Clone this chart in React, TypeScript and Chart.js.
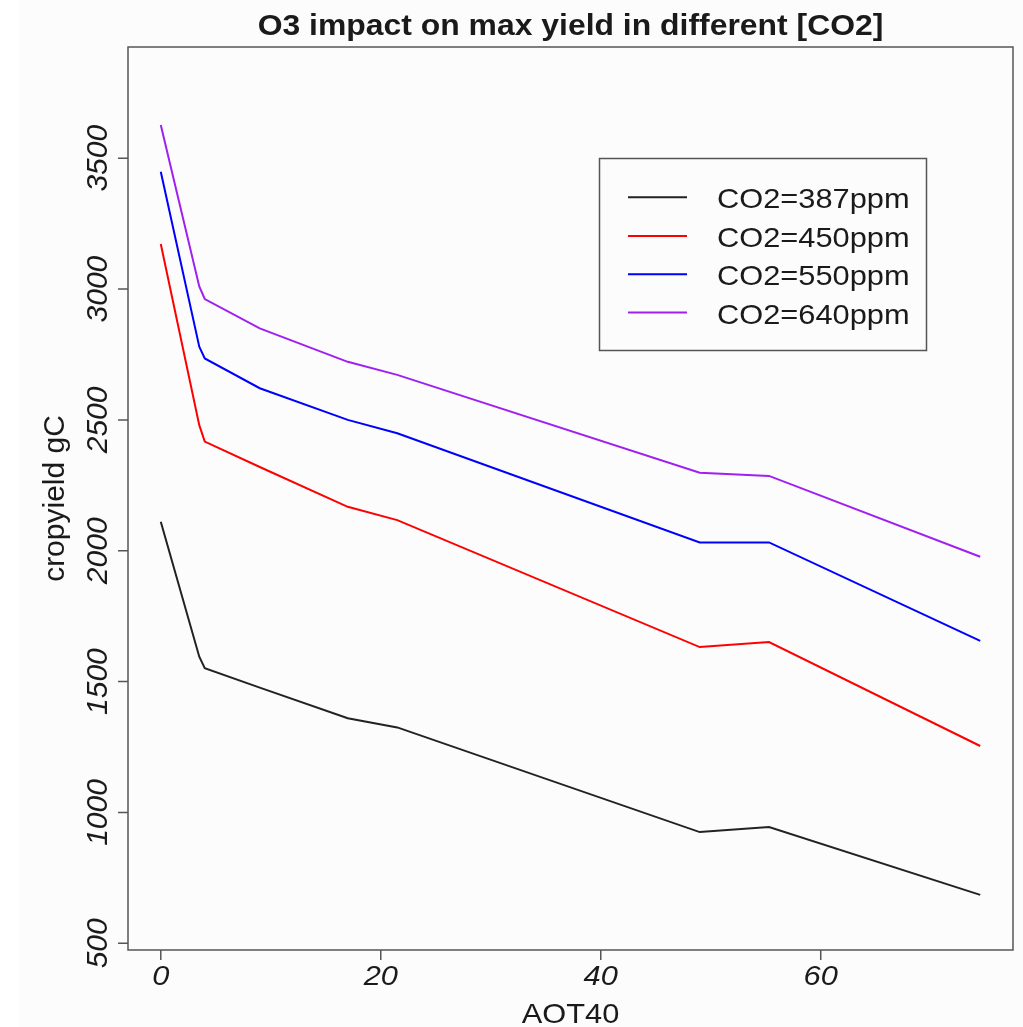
import React, { useEffect, useRef } from "react";
import { Chart, registerables } from "chart.js";

Chart.register(...registerables);

const aot40 = [0, 3.5, 4, 9, 17, 21.5, 49, 55.3, 74.5];
const co2_387 = [2111, 1595, 1551, 1477, 1360, 1325, 925, 944, 685];
const co2_450 = [3172, 2480, 2417, 2320, 2168, 2117, 1632, 1651, 1254];
const co2_550 = [3448, 2780, 2735, 2621, 2500, 2449, 2032, 2032, 1656];
const co2_640 = [3627, 3010, 2962, 2850, 2722, 2672, 2298, 2286, 1977];

const seriesLabels = ["CO2=387ppm", "CO2=450ppm", "CO2=550ppm", "CO2=640ppm"];
const seriesColors = ["#222222", "#ff0000", "#0000ff", "#a020f0"];
const xTicks = [0, 20, 40, 60];
const yTicks = [500, 1000, 1500, 2000, 2500, 3000, 3500];
const titleText = "O3 impact on max yield in different [CO2]";
const xTitle = "AOT40";
const yTitle = "cropyield gC";

const FONT = '"Liberation Sans", Arimo, Helvetica, Arial, sans-serif';
const HS = 1.1;

function txt(
  ctx: CanvasRenderingContext2D,
  s: string,
  x: number,
  y: number,
  font: string,
  align: CanvasTextAlign,
  rot: number,
  sx: number
) {
  ctx.save();
  ctx.translate(x, y);
  if (rot) ctx.rotate(rot);
  ctx.scale(sx, 1);
  ctx.font = font;
  ctx.textAlign = align;
  ctx.textBaseline = "alphabetic";
  ctx.fillStyle = "#1a1a1a";
  ctx.fillText(s, 0, 0);
  ctx.restore();
}

const rBasePlugin = {
  id: "rbase",
  beforeDraw(chart: any) {
    const ctx = chart.ctx as CanvasRenderingContext2D;
    ctx.save();
    ctx.fillStyle = "#ffffff";
    ctx.fillRect(0, 0, chart.width, chart.height);
    ctx.fillStyle = "#fcfcfc";
    ctx.fillRect(19, 0, chart.width - 19, chart.height);
    ctx.restore();
  },
  afterDraw(chart: any) {
    const ctx = chart.ctx as CanvasRenderingContext2D;
    const a = chart.chartArea;
    const xs = chart.scales.x;
    const ys = chart.scales.y;
    ctx.save();
    ctx.strokeStyle = "#555555";
    ctx.lineWidth = 1.5;
    ctx.strokeRect(a.left, a.top, a.right - a.left, a.bottom - a.top);
    // x ticks
    ctx.beginPath();
    for (const t of xTicks) {
      const px = xs.getPixelForValue(t);
      ctx.moveTo(px, a.bottom);
      ctx.lineTo(px, a.bottom + 10);
    }
    for (const t of yTicks) {
      const py = ys.getPixelForValue(t);
      ctx.moveTo(a.left, py);
      ctx.lineTo(a.left - 10, py);
    }
    ctx.stroke();
    ctx.restore();

    for (const t of xTicks) {
      txt(ctx, String(t), xs.getPixelForValue(t), a.bottom + 35, `italic 28px ${FONT}`, "center", 0, HS);
    }
    for (const t of yTicks) {
      txt(ctx, String(t), 107, ys.getPixelForValue(t), `italic 30px ${FONT}`, "center", -Math.PI / 2, 1);
    }
    const cx = (a.left + a.right) / 2;
    const cy = (a.top + a.bottom) / 2;
    txt(ctx, titleText, cx, 35, `bold 29px ${FONT}`, "center", 0, HS);
    txt(ctx, xTitle, cx, 1023, `28px ${FONT}`, "center", 0, HS);
    txt(ctx, yTitle, 64, cy, `30px ${FONT}`, "center", -Math.PI / 2, 1);

    // legend
    const lx0 = 599.5, ly0 = 158.5, lx1 = 926.5, ly1 = 350.5;
    ctx.save();
    ctx.strokeStyle = "#555555";
    ctx.lineWidth = 1.5;
    ctx.strokeRect(lx0, ly0, lx1 - lx0, ly1 - ly0);
    const rowY = [197.3, 236, 274.3, 312.5];
    seriesLabels.forEach((lab, i) => {
      ctx.strokeStyle = seriesColors[i];
      ctx.lineWidth = 2;
      ctx.beginPath();
      ctx.moveTo(628, rowY[i]);
      ctx.lineTo(687, rowY[i]);
      ctx.stroke();
      txt(ctx, lab, 717, rowY[i] + 11, `28px ${FONT}`, "left", 0, HS);
    });
    ctx.restore();
  },
};

export default function App() {
  const ref = useRef<HTMLCanvasElement | null>(null);
  useEffect(() => {
    if (!ref.current) return;
    const series = [co2_387, co2_450, co2_550, co2_640];
    const chart = new Chart(ref.current, {
      type: "line",
      data: {
        datasets: series.map((vals, i) => ({
          label: seriesLabels[i],
          data: aot40.map((x, j) => ({ x, y: vals[j] })),
          borderColor: seriesColors[i],
          backgroundColor: seriesColors[i],
          borderWidth: 2,
          pointRadius: 0,
          tension: 0,
          fill: false,
        })),
      },
      options: {
        animation: false,
        responsive: false,
        maintainAspectRatio: false,
        layout: { padding: { left: 128, top: 47, right: 10, bottom: 77 } },
        scales: {
          x: { type: "linear", min: -2.98, max: 77.48, display: false },
          y: { type: "linear", min: 474.4, max: 3925, display: false },
        },
        plugins: {
          legend: { display: false },
          tooltip: { enabled: false },
          title: { display: false },
        },
      },
      plugins: [rBasePlugin],
    });
    return () => chart.destroy();
  }, []);
  return (
    <div style={{ position: "fixed", left: 0, top: 0, width: 1023, height: 1027 }}>
      <canvas ref={ref} width={1023} height={1027} style={{ width: 1023, height: 1027, display: "block" }} />
    </div>
  );
}
